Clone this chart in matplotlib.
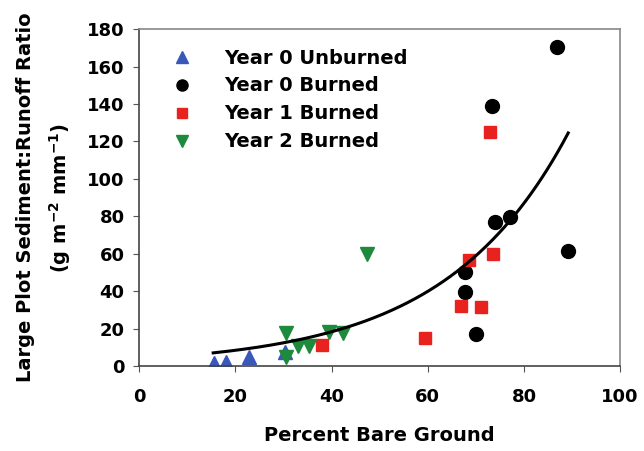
import numpy as np
import matplotlib.pyplot as plt

plt.rcParams['font.family'] = ['DejaVu Sans']
plt.rcParams['font.weight'] = 'bold'
plt.rcParams['mathtext.default'] = 'bf'

# Year 0 Unburned
y0u_x = [15.6, 18.1, 22.9, 30.4]
y0u_y = [1.5, 2.0, 5.0, 7.5]

# Year 0 Burned
y0b_x = [86.9, 73.4, 74.0, 77.0, 89.2, 67.8, 67.8, 70.0]
y0b_y = [170.4, 139.0, 76.8, 79.5, 61.5, 50.4, 39.5, 17.0]

# Year 1 Burned
y1b_x = [38.0, 59.5, 73.0, 73.6, 68.6, 67.0, 71.1]
y1b_y = [11.2, 15.0, 125.0, 60.0, 56.6, 32.0, 31.5]

# Year 2 Burned
y2b_x = [30.6, 30.5, 33.0, 35.4, 39.5, 42.4, 47.4]
y2b_y = [17.6, 5.0, 10.7, 10.5, 18.0, 17.6, 60.0]

# exponential trend y = a * exp(b * x)
fit_a = 3.84
fit_b = 0.039
fit_range = (15.4, 89.2)

fig = plt.figure(figsize=(6.44, 4.51), dpi=100)
ax = fig.add_axes([0.216, 0.1885, 0.747, 0.747])

ax.plot(y0u_x, y0u_y, '^', color='#3a58b8', ms=10, ls='none', label='Year 0 Unburned')
ax.plot(y0b_x, y0b_y, 'o', color='black', ms=10, ls='none', label='Year 0 Burned')
ax.plot(y1b_x, y1b_y, 's', color='#e8221e', ms=8.5, ls='none', label='Year 1 Burned')
ax.plot(y2b_x, y2b_y, 'v', color='#1d8a3c', ms=10, ls='none', label='Year 2 Burned')

xs = np.linspace(fit_range[0], fit_range[1], 200)
ax.plot(xs, fit_a * np.exp(fit_b * xs), color='black', lw=2.2)

ax.set_xlim(0, 100)
ax.set_ylim(0, 180)
ax.set_xticks(range(0, 101, 20))
ax.set_yticks(range(0, 181, 20))
ax.tick_params(direction='out', length=4.5, color='#555555', labelsize=13)
ax.tick_params(axis='x', pad=11.5)
ax.tick_params(axis='y', pad=6)
for s in ax.spines.values():
    s.set_color('#888888')
    s.set_linewidth(1.2)
ax.spines['left'].set_color('#444444')
ax.spines['bottom'].set_color('#444444')

ax.set_xlabel('Percent Bare Ground', fontsize=14, fontweight='bold', labelpad=14)
ax.set_ylabel('Large Plot Sediment:Runoff Ratio\n(g m$^{-2}$ mm$^{-1}$)',
              fontsize=14, fontweight='bold', labelpad=10, linespacing=1.63)

leg = ax.legend(loc='upper left', frameon=False, fontsize=14, handletextpad=1.4,
                borderaxespad=0.6, labelspacing=0.46, handlelength=1.5,
                markerscale=0.8, bbox_to_anchor=(0.019, 1.0))

fig.savefig('out.png', dpi=100)
